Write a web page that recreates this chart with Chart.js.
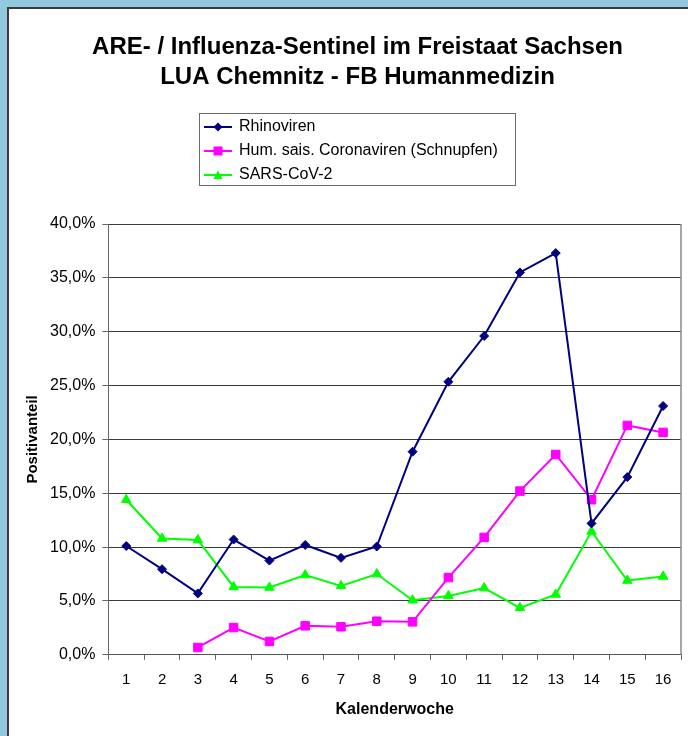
<!DOCTYPE html>
<html><head><meta charset="utf-8">
<script src="https://cdn.jsdelivr.net/npm/chart.js@4"></script>
<style>
html,body{margin:0;padding:0;background:#fff;}
#wrap{position:relative;width:688px;height:736px;overflow:hidden;background:#fff;}
#c{position:absolute;left:0;top:0;}
.f{position:absolute;}
</style></head><body>
<div id="wrap">
<canvas id="c" width="688" height="736"></canvas>
<div class="f" style="left:0;top:0;width:688px;height:7px;background:#92C9DC"></div>
<div class="f" style="left:0;top:0;width:7px;height:736px;background:#92C9DC"></div>
<div class="f" style="left:7px;top:7px;width:681px;height:2px;background:#3c3c3c"></div>
<div class="f" style="left:7px;top:7px;width:2px;height:729px;background:#3c3c3c"></div>
</div>
<script>
const titleLines = ['ARE- / Influenza-Sentinel im Freistaat Sachsen', 'LUA Chemnitz - FB Humanmedizin'];
const weeks = ['1','2','3','4','5','6','7','8','9','10','11','12','13','14','15','16'];
const seriesNames = ['Rhinoviren', 'Hum. sais. Coronaviren (Schnupfen)', 'SARS-CoV-2'];
const rhino = [10.1, 7.95, 5.7, 10.7, 8.75, 10.2, 9.0, 10.05, 18.86, 25.35, 29.6, 35.5, 37.3, 12.2, 16.5, 23.1];
const corona = [null, null, 0.68, 2.53, 1.24, 2.69, 2.6, 3.12, 3.06, 7.17, 10.9, 15.2, 18.6, 14.4, 21.3, 20.65];
const sars = [14.4, 10.8, 10.67, 6.3, 6.25, 7.4, 6.4, 7.5, 5.07, 5.47, 6.2, 4.36, 5.6, 11.45, 6.9, 7.27];
const yAxisTitle = 'Positivanteil';
const xAxisTitle = 'Kalenderwoche';

Chart.defaults.font.family = '"Liberation Sans", Arial, sans-serif';
Chart.defaults.color = '#000';

function makeIcon(color, style) {
  const c = document.createElement('canvas'); c.width = 28; c.height = 12;
  const x = c.getContext('2d');
  x.strokeStyle = color; x.lineWidth = 2;
  x.beginPath(); x.moveTo(0, 6); x.lineTo(28, 6); x.stroke();
  x.fillStyle = color; x.beginPath();
  if (style === 'rectRot') { x.moveTo(14, 1.5); x.lineTo(18.5, 6); x.lineTo(14, 10.5); x.lineTo(9.5, 6); }
  else if (style === 'rect') { x.rect(9.5, 1.5, 9, 9); }
  else { x.moveTo(14, 1.5); x.lineTo(18.5, 10); x.lineTo(9.5, 10); }
  x.closePath(); x.fill();
  return c;
}

const LEGEND_W = 330, LEGEND_H = 113, LEGEND_LEFT = 197;
const tweaks = {
  id: 'tweaks',
  beforeLayout(chart) {
    const lg = chart.legend;
    if (lg && !lg._tw) {
      lg._tw = true;
      const orig = lg.update;
      lg.update = function (w, h, m) { orig.call(this, LEGEND_W, h, m); this.height = LEGEND_H; };
    }
  },
  afterLayout(chart) {
    const lg = chart.legend;
    if (lg) { lg.left = LEGEND_LEFT; lg.right = LEGEND_LEFT + LEGEND_W; lg.width = LEGEND_W; }
    const tb = chart.titleBlock;
    if (tb) { tb.left = 34; tb.right = chart.chartArea.right; tb.width = tb.right - tb.left; }
  },
  afterDraw(chart) {
    const ctx = chart.ctx, a = chart.chartArea;
    ctx.save();
    ctx.strokeStyle = '#6a6a6a'; ctx.lineWidth = 1;
    ctx.strokeRect(199.5, 113.5, 316, 72);
    ctx.strokeStyle = '#8a8a8a'; ctx.lineWidth = 1.5;
    ctx.beginPath(); ctx.moveTo(a.right, a.top); ctx.lineTo(a.right, a.bottom); ctx.stroke();
    ctx.restore();
  }
};

const styles = [
  {color: '#000080', point: 'rectRot', r: 4.5},
  {color: '#FF00FF', point: 'rect', r: 6},
  {color: '#00FF00', point: 'triangle', r: 5.5}
];
const values = [rhino, corona, sars];

new Chart(document.getElementById('c'), {
  type: 'line',
  data: {
    labels: weeks,
    datasets: values.map((d, i) => ({
      label: seriesNames[i], data: d,
      borderColor: styles[i].color, backgroundColor: styles[i].color,
      pointBackgroundColor: styles[i].color, pointBorderColor: styles[i].color,
      pointStyle: styles[i].point, pointRadius: styles[i].r, pointBorderWidth: 1,
      borderWidth: 2, tension: 0, spanGaps: false
    }))
  },
  options: {
    responsive: false, animation: false, devicePixelRatio: 1,
    layout: { padding: { top: 23, left: 24, right: 7, bottom: 13 } },
    plugins: {
      tooltip: { enabled: false },
      title: { display: true, text: titleLines, color: '#000', font: { size: 24, weight: 'bold', lineHeight: 1.25 }, padding: { top: 9, bottom: 19 } },
      legend: {
        position: 'top', align: 'start',
        labels: {
          usePointStyle: true, pointStyleWidth: 26, padding: 8, color: '#000', font: { size: 16 },
          generateLabels(chart) {
            return chart.data.datasets.map((ds, i) => ({
              text: ds.label, pointStyle: makeIcon(styles[i].color, styles[i].point),
              fillStyle: styles[i].color, strokeStyle: styles[i].color, lineWidth: 0,
              hidden: false, datasetIndex: i, fontColor: '#000'
            }));
          }
        }
      }
    },
    scales: {
      x: {
        offset: true,
        grid: { offset: true, drawOnChartArea: false, drawTicks: true, tickLength: 5, color: '#666' },
        border: { color: '#555', width: 1 },
        ticks: { color: '#000', font: { size: 15 }, padding: 11, maxRotation: 0, autoSkip: false },
        title: { display: true, text: xAxisTitle, color: '#000', font: { size: 16, weight: 'bold' }, padding: { top: 0, bottom: 4 } }
      },
      y: {
        min: 0, max: 40,
        ticks: { stepSize: 5, color: '#000', font: { size: 16 }, padding: 7, callback: v => v.toFixed(1).replace('.', ',') + '%' },
        grid: { color: '#3a3a3a', lineWidth: 1, tickLength: 6, drawTicks: true, tickColor: '#666' },
        border: { color: '#666', width: 1 },
        title: { display: true, text: yAxisTitle, color: '#000', font: { size: 15, weight: 'bold' }, padding: { top: 0, bottom: 1 } }
      }
    }
  },
  plugins: [tweaks]
});
</script>
</body></html>
